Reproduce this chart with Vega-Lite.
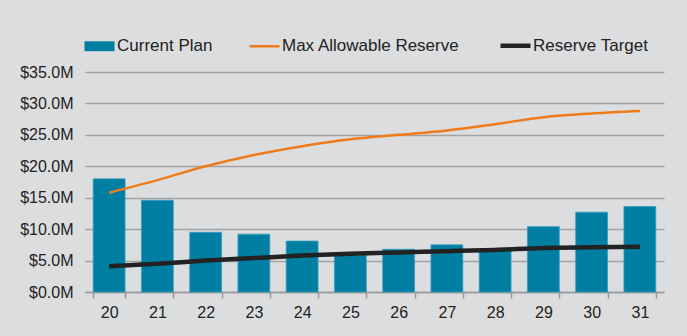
{
  "$schema": "https://vega.github.io/schema/vega-lite/v6.json",
  "width": 579,
  "height": 220,
  "autosize": {"type": "none"},
  "padding": {"left": 85, "top": 72, "right": 23, "bottom": 44},
  "background": "#dcdddf",
  "config": {
    "view": {"stroke": null},
    "font": "Liberation Sans",
    "axis": {"labelFont": "Liberation Sans", "labelFontSize": 16, "labelColor": "#222222", "title": null}
  },
  "data": {
    "values": [
      {"year": "20", "series": "Current Plan", "value": 18.0},
      {"year": "21", "series": "Current Plan", "value": 14.6},
      {"year": "22", "series": "Current Plan", "value": 9.5},
      {"year": "23", "series": "Current Plan", "value": 9.2},
      {"year": "24", "series": "Current Plan", "value": 8.1},
      {"year": "25", "series": "Current Plan", "value": 5.8},
      {"year": "26", "series": "Current Plan", "value": 6.8},
      {"year": "27", "series": "Current Plan", "value": 7.5},
      {"year": "28", "series": "Current Plan", "value": 6.8},
      {"year": "29", "series": "Current Plan", "value": 10.4},
      {"year": "30", "series": "Current Plan", "value": 12.7},
      {"year": "31", "series": "Current Plan", "value": 13.6},
      {"year": "20", "series": "Max Allowable Reserve", "value": 15.8},
      {"year": "21", "series": "Max Allowable Reserve", "value": 17.8},
      {"year": "22", "series": "Max Allowable Reserve", "value": 20.0},
      {"year": "23", "series": "Max Allowable Reserve", "value": 21.8},
      {"year": "24", "series": "Max Allowable Reserve", "value": 23.2},
      {"year": "25", "series": "Max Allowable Reserve", "value": 24.3},
      {"year": "26", "series": "Max Allowable Reserve", "value": 25.0},
      {"year": "27", "series": "Max Allowable Reserve", "value": 25.7},
      {"year": "28", "series": "Max Allowable Reserve", "value": 26.7},
      {"year": "29", "series": "Max Allowable Reserve", "value": 27.8},
      {"year": "30", "series": "Max Allowable Reserve", "value": 28.4},
      {"year": "31", "series": "Max Allowable Reserve", "value": 28.8},
      {"year": "20", "series": "Reserve Target", "value": 4.1},
      {"year": "21", "series": "Reserve Target", "value": 4.5},
      {"year": "22", "series": "Reserve Target", "value": 5.0},
      {"year": "23", "series": "Reserve Target", "value": 5.4},
      {"year": "24", "series": "Reserve Target", "value": 5.8},
      {"year": "25", "series": "Reserve Target", "value": 6.1},
      {"year": "26", "series": "Reserve Target", "value": 6.3},
      {"year": "27", "series": "Reserve Target", "value": 6.5},
      {"year": "28", "series": "Reserve Target", "value": 6.7},
      {"year": "29", "series": "Reserve Target", "value": 7.0},
      {"year": "30", "series": "Reserve Target", "value": 7.1},
      {"year": "31", "series": "Reserve Target", "value": 7.2}
    ]
  },
  "encoding": {
    "x": {
      "field": "year", "type": "nominal", "sort": null,
      "scale": {"paddingInner": 0.34, "paddingOuter": 0.17},
      "axis": {"labelAngle": 0, "tickBand": "extent", "tickSize": 6, "tickColor": "#999999", "domainColor": "#999999", "domainWidth": 1.5, "tickWidth": 1.5, "labelPadding": 6, "grid": false}
    },
    "y": {
      "field": "value", "type": "quantitative",
      "scale": {"domain": [0, 35]},
      "axis": {"values": [0, 5, 10, 15, 20, 25, 30, 35], "labelExpr": "'$' + format(datum.value, '.1f') + 'M'", "domain": false, "ticks": false, "labelPadding": 12, "grid": true, "gridColor": "#a3a3a3", "gridWidth": 1.5}
    },
    "color": {
      "field": "series", "type": "nominal",
      "scale": {"domain": ["Current Plan", "Max Allowable Reserve", "Reserve Target"], "range": ["#007fa3", "#ef7b1b", "#222222"]},
      "legend": {
        "title": null, "orient": "none", "direction": "horizontal",
        "legendX": 6, "legendY": -35,
        "labelFont": "Liberation Sans", "labelFontSize": 17, "labelColor": "#222222", "labelLimit": 400,
        "labelOffset": 9, "columnPadding": 31, "symbolSize": 900,
        "encode": {
          "symbols": {
            "update": {
              "shape": {"signal": "datum.value === 'Current Plan' ? 'M-1,-0.33H1V0.33H-1Z' : 'stroke'"},
              "strokeWidth": {"signal": "datum.value === 'Current Plan' ? 0 : (datum.value === 'Reserve Target' ? 4.5 : 2.5)"},
              "fill": {"signal": "datum.value === 'Current Plan' ? '#007fa3' : 'transparent'"},
              "stroke": {"signal": "datum.value === 'Current Plan' ? '#007fa3' : (datum.value === 'Reserve Target' ? '#222222' : '#ef7b1b')"},
              "opacity": {"value": 1}
            }
          }
        }
      }
    }
  },
  "layer": [
    {
      "transform": [{"filter": "datum.series === 'Current Plan'"}],
      "mark": {"type": "bar", "stroke": "#3a9cc0", "strokeWidth": 0.8}
    },
    {
      "transform": [{"filter": "datum.series !== 'Current Plan'"}],
      "mark": {"type": "line", "interpolate": "monotone"},
      "encoding": {
        "strokeWidth": {"condition": {"test": "datum.series === 'Reserve Target'", "value": 4.5}, "value": 2.5}
      }
    }
  ]
}
